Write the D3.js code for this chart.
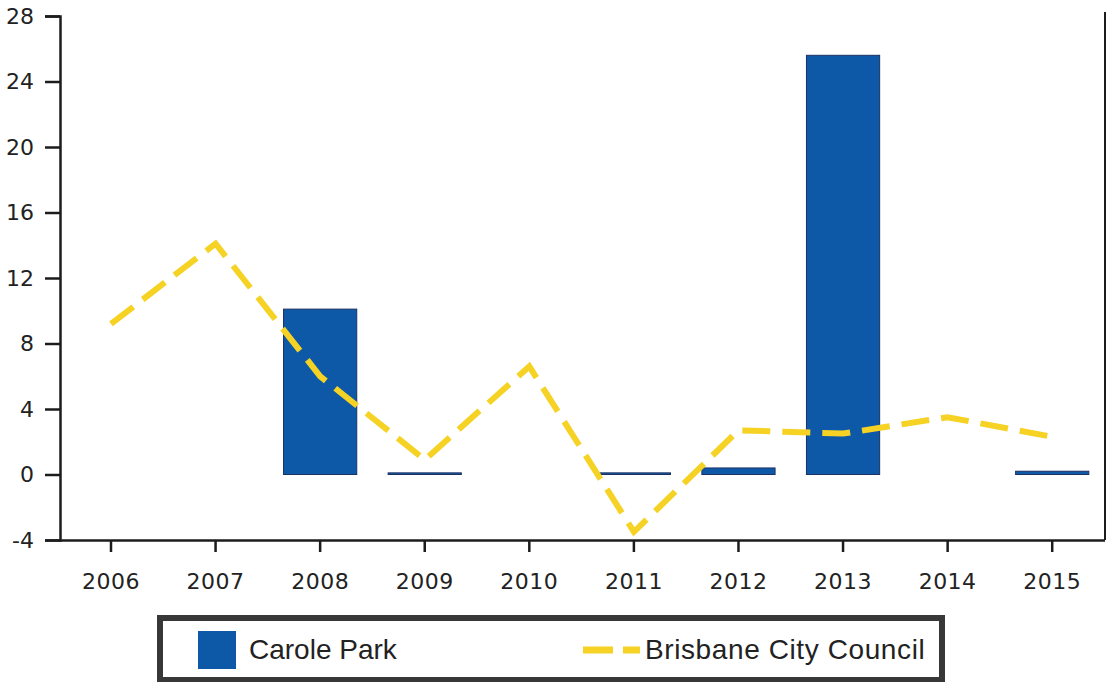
<!DOCTYPE html>
<html>
<head>
<meta charset="utf-8">
<script src="https://cdn.jsdelivr.net/npm/d3@7"></script>
<style>
  body { margin: 0; background: #fff; }
  svg { display: block; }
</style>
</head>
<body>
<svg width="1107" height="682"></svg>
<script>
// data
var years = ['2006', '2007', '2008', '2009', '2010', '2011', '2012', '2013', '2014', '2015'];
var carolePark = [0, 0, 10.1, 0.1, 0, 0.1, 0.4, 25.6, 0, 0.2];
var brisbane = [9.2, 14.1, 6.0, 0.9, 6.6, -3.5, 2.7, 2.5, 3.5, 2.3];
var yTicks = [-4, 0, 4, 8, 12, 16, 20, 24, 28];
var seriesNames = ['Carole Park', 'Brisbane City Council'];

var barColor = '#0e59a7',
  lineColor = '#f5d224',
  axisColor = '#1c1c1c';

var svg = d3.select('svg');

var x = d3.scaleBand()
  .domain(years)
  .range([58.7, 1104.5])
  .paddingInner(0.3)
  .paddingOuter(0.15);

var y = d3.scaleLinear()
  .domain([-4, 28])
  .range([540, 16]);

// bars
svg.append('g')
  .selectAll('rect')
  .data(years.map(function(d, i) { return {year: d, value: carolePark[i]}; })
    .filter(function(d) { return d.value > 0; }))
  .enter()
  .append('rect')
  .attr('x', function(d) { return x(d.year); })
  .attr('y', function(d) { return y(d.value); })
  .attr('width', x.bandwidth())
  .attr('height', function(d) { return y(0) - y(d.value); })
  .attr('fill', barColor)
  .attr('stroke', '#1d3163')
  .attr('stroke-width', 1);

// dashed line
var line = d3.line()
  .x(function(d, i) { return x(years[i]) + x.bandwidth() / 2; })
  .y(function(d) { return y(d); });

svg.append('path')
  .datum(brisbane)
  .attr('d', line)
  .attr('fill', 'none')
  .attr('stroke', lineColor)
  .attr('stroke-width', 6)
  .attr('stroke-dasharray', '28,12');

// x axis
var xAxis = svg.append('g')
  .attr('transform', 'translate(0,540)')
  .call(d3.axisBottom(x).tickSizeInner(12).tickSizeOuter(0));
xAxis.select('.domain').attr('stroke', axisColor).attr('stroke-width', 2.5);
xAxis.selectAll('.tick line').attr('stroke', axisColor).attr('stroke-width', 2.5);
xAxis.selectAll('.tick text')
  .attr('y', 33)
  .attr('fill', '#222')
  .style('font-family', 'DejaVu Sans, sans-serif')
  .style('font-size', '22px')
  .style('letter-spacing', '0.5px');

// y axis (plain hyphen for negatives, like the original)
var yAxis = svg.append('g')
  .attr('transform', 'translate(60,0)')
  .call(d3.axisLeft(y)
    .tickValues(yTicks)
    .tickFormat(function(d) { return String(d); })
    .tickSize(15)
    .tickPadding(11));
yAxis.select('.domain').attr('stroke', axisColor).attr('stroke-width', 2.5);
yAxis.selectAll('.tick line').attr('stroke', axisColor).attr('stroke-width', 2.5);
yAxis.selectAll('.tick text')
  .attr('fill', '#222')
  .style('font-family', 'DejaVu Sans, sans-serif')
  .style('font-size', '22px');

// right border
svg.append('line')
  .attr('x1', 1105).attr('x2', 1105)
  .attr('y1', 12).attr('y2', 540)
  .attr('stroke', axisColor)
  .attr('stroke-width', 2);

// legend
var legend = svg.append('g');

legend.append('rect')
  .attr('x', 160)
  .attr('y', 618)
  .attr('width', 782)
  .attr('height', 62)
  .attr('fill', '#fff')
  .attr('stroke', '#383838')
  .attr('stroke-width', 6);

legend.append('rect')
  .attr('x', 198)
  .attr('y', 631)
  .attr('width', 38)
  .attr('height', 38)
  .attr('fill', barColor);

legend.append('text')
  .attr('x', 249)
  .attr('y', 659)
  .attr('fill', '#222')
  .style('font-family', 'Liberation Sans, Arial, sans-serif')
  .style('font-size', '28px')
  .text(seriesNames[0]);

legend.append('line')
  .attr('x1', 583).attr('x2', 640)
  .attr('y1', 650).attr('y2', 650)
  .attr('stroke', lineColor)
  .attr('stroke-width', 7)
  .attr('stroke-dasharray', '30,10');

legend.append('text')
  .attr('x', 645)
  .attr('y', 659)
  .attr('fill', '#222')
  .style('font-family', 'Liberation Sans, Arial, sans-serif')
  .style('font-size', '28px')
  .style('letter-spacing', '0.6px')
  .text(seriesNames[1]);
</script>
</body>
</html>
